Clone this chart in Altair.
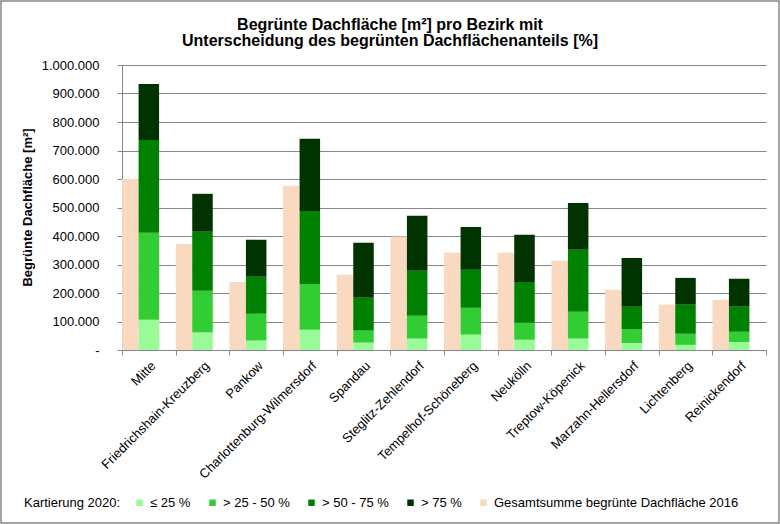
import altair as alt
import pandas as pd

# Berlin districts
bezirke = [
    "Mitte", "Friedrichshain-Kreuzberg", "Pankow", "Charlottenburg-Wilmersdorf",
    "Spandau", "Steglitz-Zehlendorf", "Tempelhof-Schöneberg", "Neukölln",
    "Treptow-Köpenick", "Marzahn-Hellersdorf", "Lichtenberg", "Reinickendorf",
]

# Kartierung 2020: green roof area [m²] per share of greened roof
anteil_bis_25 = [106000, 61000, 33000, 71000, 26000, 40000, 54000, 36000, 40000, 25000, 18000, 28000]
anteil_25_50 = [305000, 147000, 94000, 161000, 42000, 80000, 94000, 60000, 94000, 49000, 39000, 36000]
anteil_50_75 = [326000, 207000, 130000, 256000, 115000, 158000, 134000, 143000, 218000, 78000, 102000, 88000]
anteil_ueber_75 = [196000, 133000, 130000, 253000, 193000, 193000, 150000, 165000, 164000, 171000, 94000, 98000]

# Gesamtsumme 2016
summe_2016 = [600000, 372000, 239000, 576000, 264000, 398000, 341000, 341000, 313000, 211000, 159000, 176000]

klassen = ["≤ 25 %", "> 25 - 50 %", "> 50 - 75 %", "> 75 %"]
label_2016 = "Gesamtsumme begrünte Dachfläche 2016"
farben = ["#98FB98", "#32CD32", "#008000", "#003300", "#FAD9C1"]

rows = []
for k, (name, serie) in enumerate(zip(klassen, [anteil_bis_25, anteil_25_50, anteil_50_75, anteil_ueber_75])):
    for b, v in zip(bezirke, serie):
        rows.append({"Bezirk": b, "Klasse": name, "ord": k, "Wert": v})
df_2020 = pd.DataFrame(rows)
df_2016 = pd.DataFrame({"Bezirk": bezirke, "Klasse": label_2016, "Wert": summe_2016})

FONT = "Liberation Sans"
GRAU = "#868686"
Y_TICKS = list(range(0, 1000001, 100000))

farbe = alt.Color(
    "Klasse:N",
    scale=alt.Scale(domain=klassen + [label_2016], range=farben),
    legend=alt.Legend(
        title="Kartierung 2020:",
        orient="none",
        direction="horizontal",
        columns=5,
        legendX=-98,
        legendY=431,
        titleOrient="left",
        titleFontWeight="normal",
        titleFontSize=13,
        titleFont=FONT,
        titleColor="#000",
        titlePadding=12,
        labelFont=FONT,
        labelFontSize=13,
        labelColor="#000",
        labelLimit=0,
        symbolType="square",
        symbolSize=42,
        symbolStrokeWidth=0,
        labelOffset=4,
        columnPadding=15,
    ),
)

x_axis = alt.Axis(
    title=None,
    labelAngle=-45,
    labelFont=FONT,
    labelFontSize=13,
    labelColor="#000",
    labelPadding=4,
    labelLimit=400,
    domainColor=GRAU,
    tickColor=GRAU,
    tickBand="extent",
    tickSize=5,
    grid=False,
)
x_scale = alt.Scale(paddingInner=0, paddingOuter=0)

y_axis = alt.Axis(
    title="Begrünte Dachfläche [m²]",
    titleFont=FONT,
    titleFontSize=13,
    titleFontWeight="bold",
    titleColor="#000",
    titleX=-95,
    titleY=142,
    titleBaseline="middle",
    values=Y_TICKS,
    labelExpr="datum.value == 0 ? '-' : replace(format(datum.value, ','), /,/g, '.')",
    labelOverlap=False,
    labelFont=FONT,
    labelFontSize=13,
    labelColor="#000",
    labelPadding=18,
    domainColor=GRAU,
    tickColor=GRAU,
    tickSize=5,
    gridColor=GRAU,
    gridWidth=1,
)
y_scale = alt.Scale(domain=[0, 1000000], nice=False)

balken_2016 = alt.Chart(df_2016).mark_bar(width=16.5, xOffset=-18.5).encode(
    x=alt.X("Bezirk:N", sort=bezirke, scale=x_scale, axis=x_axis),
    y=alt.Y("Wert:Q", scale=y_scale, axis=y_axis),
    color=farbe,
)

balken_2020 = alt.Chart(df_2020).mark_bar(width=20.5, xOffset=0).encode(
    x=alt.X("Bezirk:N", sort=bezirke, scale=x_scale, axis=x_axis),
    y=alt.Y("Wert:Q", stack="zero", scale=y_scale, axis=y_axis),
    color=farbe,
    order=alt.Order("ord:Q", sort="ascending"),
)

# thin grey frame around the whole graphic
rahmen = alt.Chart(pd.DataFrame({"r": [0]})).mark_rect(
    fill=None, stroke=GRAU, strokeWidth=1.5
).encode(
    x=alt.value(-121), x2=alt.value(657), y=alt.value(-64), y2=alt.value(458)
)

chart = (
    alt.layer(rahmen, balken_2016, balken_2020)
    .properties(
        width=644,
        height=285,
        autosize=alt.AutoSizeParams(type="none"),
        padding={"left": 122, "top": 65, "right": 14, "bottom": 174},
        background="white",
        title=alt.TitleParams(
            text=["Begrünte Dachfläche [m²]  pro Bezirk mit", "Unterscheidung des begrünten Dachflächenanteils [%]"],
            font=FONT,
            fontSize=16,
            fontWeight="bold",
            color="#000",
            anchor="middle",
            baseline="alphabetic",
            offset=0,
            dx=-54,
            dy=62,
            lineHeight=16.5,
        ),
    )
    .configure_view(stroke=None)
    .configure_axisX(labelFontSize=13, labelFont=FONT)
)

chart.save("out.html", embed_options={"renderer": "svg", "actions": False})
